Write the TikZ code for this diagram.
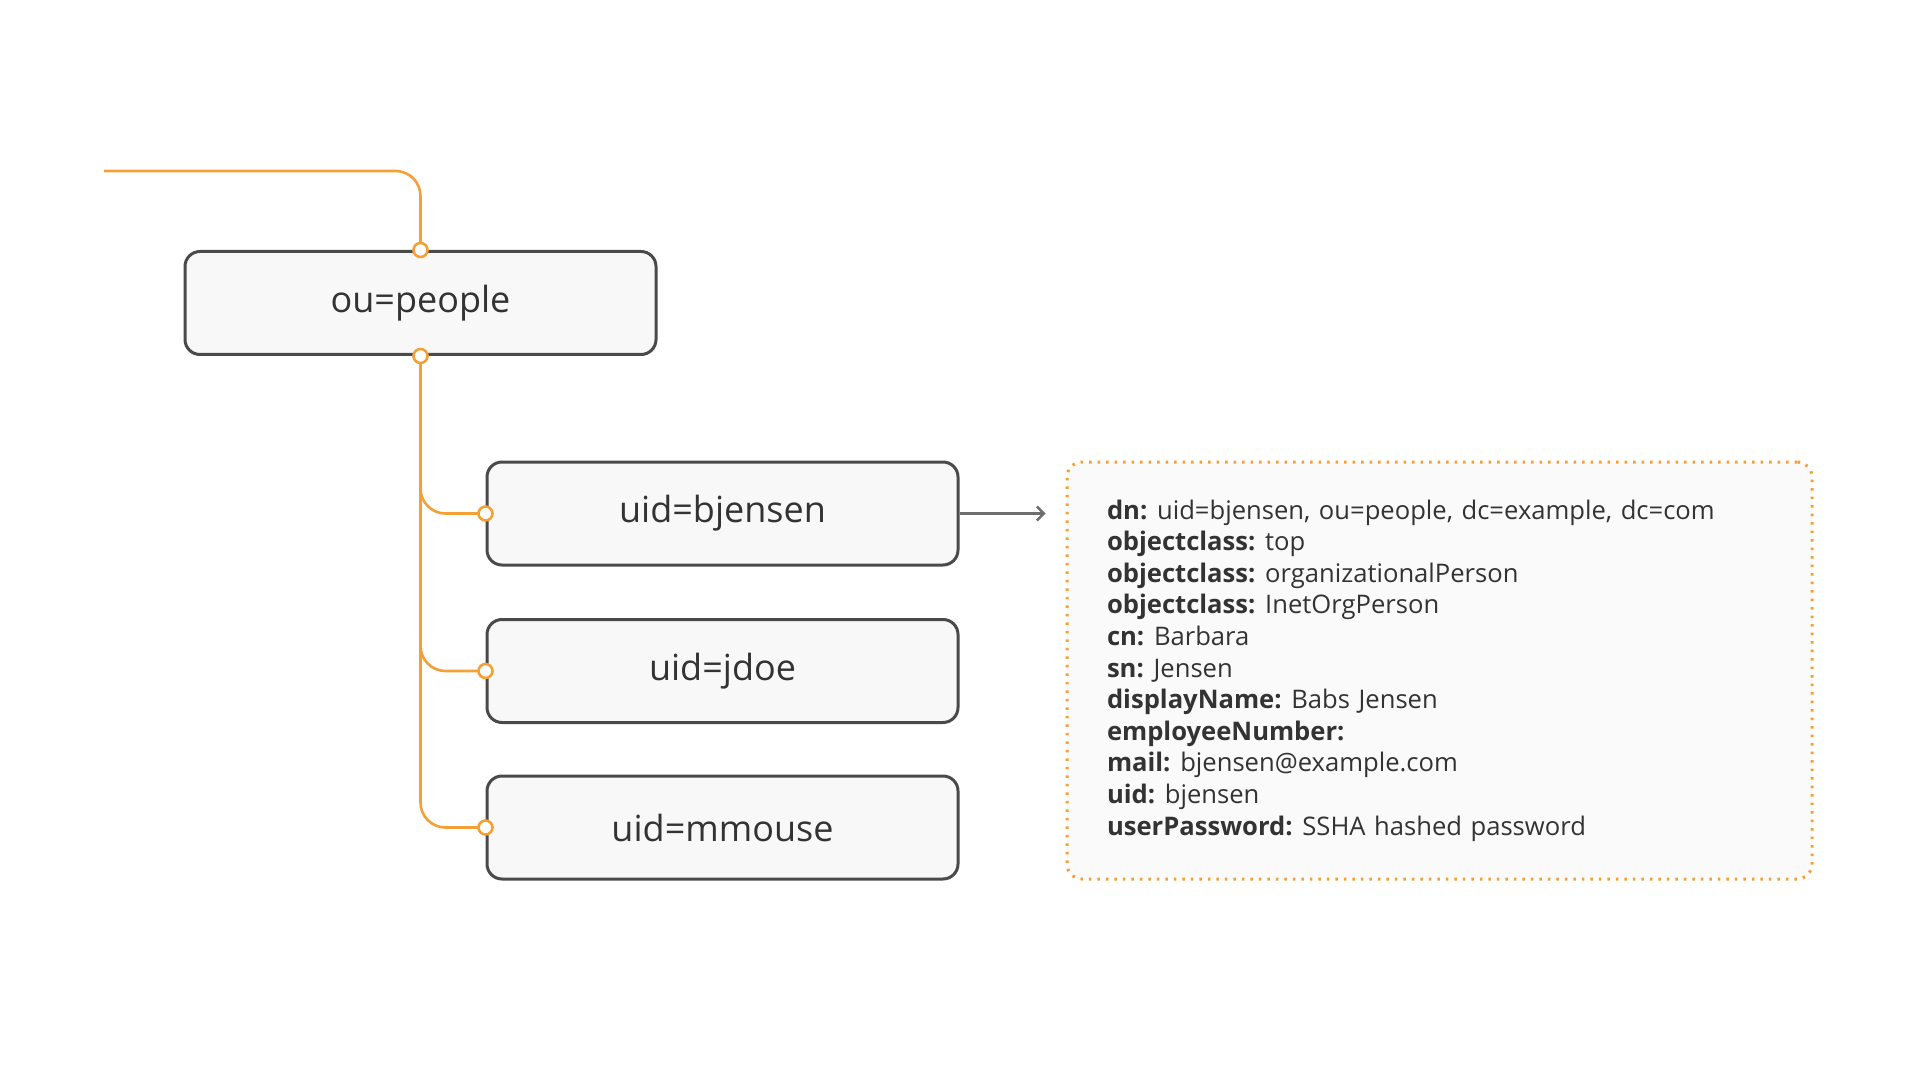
\documentclass[tikz,border=0pt]{standalone}
\usepackage{fontspec}
\setmainfont{Open Sans}
\usetikzlibrary{arrows.meta}
\newlength\PX
\setlength\PX{0.75pt}
\definecolor{orng}{HTML}{F4A037}
\definecolor{boxline}{HTML}{4A4A4A}
\definecolor{boxfill}{HTML}{F8F8F8}
\definecolor{txt}{HTML}{333333}
\tikzset{
  entry/.style={draw=boxline, line width=3\PX, fill=boxfill, rounded corners=15\PX,
    minimum width=471\PX, minimum height=103\PX, inner sep=0pt,
    text=txt, font=\fontsize{27}{32}\selectfont},
  link/.style={draw=orng, line width=2.6\PX, rounded corners=25\PX},
  port/.style={draw=orng, line width=2.6\PX, fill=white},
  detail/.style={draw=orng, line width=3\PX, dash pattern=on 2.5\PX off 6\PX,
    rounded corners=15\PX, fill=white!98!black, text=txt, align=left,
    text width=665\PX, inner xsep=40\PX, minimum height=417\PX,
    font=\fontsize{19.2}{23.7}\selectfont},
  pointer/.style={draw=boxline!80, line width=1.8pt, -{Straight Barb[length=5.25pt,width=10.5pt,line width=1.8pt]}}
}
\newcommand\kw[1]{\textbf{#1}\hspace{-0.12em}}
\begin{document}
\begin{tikzpicture}[x=0.75pt,y=-0.75pt]
\fill[white] (0,0) rectangle (1920,1080);
\useasboundingbox (0,0) rectangle (1920,1080);

\node[entry] (ou) at (420.5,303) {ou=people};
\node[entry] (bj) at (722.5,513.5) {uid=bjensen};
\node[entry] (jd) at (722.5,671) {uid=jdoe};
\node[entry] (mm) at (722.5,827.5) {uid=mmouse};

\node[detail] (dt) at (1439.5,670.5) {%
\kw{dn:} uid=bjensen, ou=people, dc=example, dc=com\\
\kw{objectclass:} top\\
\kw{objectclass:} organizationalPerson\\
\kw{objectclass:} InetOrgPerson\\
\kw{cn:} Barbara\\
\kw{sn:} Jensen\\
\kw{displayName:} Babs Jensen\\
\kw{employeeNumber:}\\
\kw{mail:} bjensen@example.com\\
\kw{uid:} bjensen\\
\kw{userPassword:} SSHA hashed password};

\coordinate (in) at (104,171);
\draw[link] (in) -| (ou.north);
\draw[link] (ou.south) |- (bj.west);
\draw[link] (ou.south) |- (jd.west);
\draw[link] (ou.south) |- (mm.west);

\foreach \n/\a in {ou/north, ou/south, bj/west, jd/west, mm/west}
  \draw[port] (\n.\a) circle (7\PX);

\draw[pointer, shorten >=15pt] (bj.east) -- (bj.east -| dt.west);
\end{tikzpicture}
\end{document}
